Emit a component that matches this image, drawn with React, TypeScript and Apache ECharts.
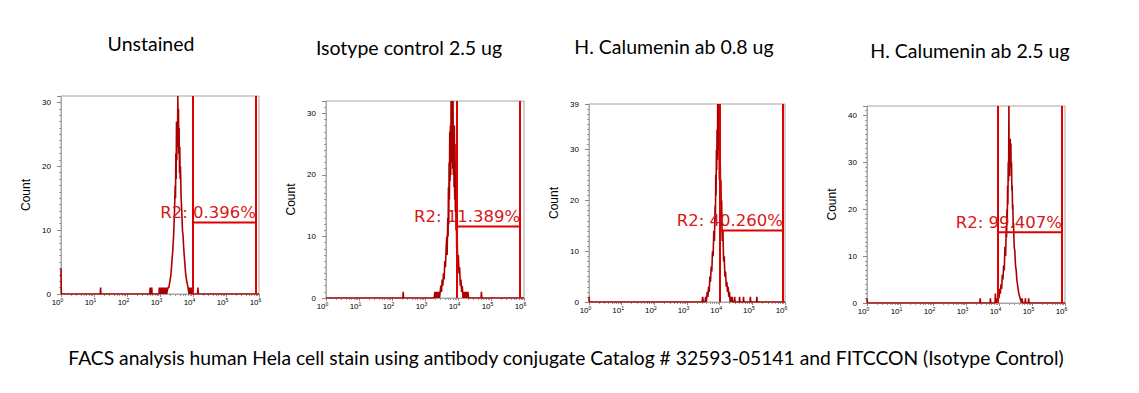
import React, { useEffect, useRef } from "react";
import * as echarts from "echarts";

// ---------- texts ----------
const panelTitles = [
  "Unstained",
  "Isotype control 2.5 ug",
  "H. Calumenin ab 0.8 ug",
  "H. Calumenin ab 2.5 ug",
];
const caption =
  "FACS analysis human Hela cell stain using antibody conjugate Catalog # 32593-05141 and FITCCON (Isotype Control)";
const yAxisName = "Count";

// ---------- axes ----------
const decadeTicks = [0, 1, 2, 3, 4, 5, 6]; // exponent of 10
const yMaxes = [31, 32, 39, 42];
const yShowMaxLabel = [false, false, true, false];

// ---------- gates (R2) ----------
const gateStart = [3.98, 3.96, 4.0, 3.97];
const gateEnd = [5.89, 5.87, 5.92, 5.89];
const gateHeight = [11.2, 11.6, 14.1, 15.1];
const gateLabels = ["R2: 0.396%", "R2: 11.389%", "R2: 40.260%", "R2: 99.407%"];

// ---------- histograms: [log10 fluorescence, count] ----------
const unstainedHist = [
  [0, 4], [0.01, 0], [1.19, 0], [1.2, 1], [1.21, 0], [2.69, 0], [2.7, 1], [2.71, 0],
  [2.74, 0], [2.75, 1], [2.76, 0], [2.97, 0], [2.98, 1], [3.0, 0], [3.02, 1], [3.04, 0],
  [3.06, 1], [3.08, 0], [3.1, 1], [3.12, 0], [3.14, 1], [3.16, 0], [3.18, 1], [3.2, 0],
  [3.24, 1], [3.27, 1], [3.3, 2], [3.33, 3], [3.36, 5], [3.39, 7], [3.42, 10], [3.44, 13],
  [3.46, 17], [3.47, 15], [3.48, 22], [3.49, 18], [3.5, 27], [3.51, 21], [3.52, 26],
  [3.53, 23], [3.54, 31], [3.55, 24], [3.56, 29], [3.57, 22], [3.58, 26], [3.59, 19],
  [3.6, 23], [3.61, 18], [3.62, 20], [3.64, 15], [3.66, 13], [3.68, 10], [3.7, 9],
  [3.72, 7], [3.75, 5], [3.78, 3], [3.81, 2], [3.85, 1], [3.88, 0], [3.9, 1], [3.92, 0],
  [3.95, 1], [3.96, 0], [4.14, 0], [4.15, 1], [4.16, 0], [6, 0],
];
const isotypeHist = [
  [0, 0], [2.33, 0], [2.34, 1], [2.35, 0], [3.28, 0], [3.3, 1], [3.32, 0], [3.34, 1],
  [3.36, 0], [3.38, 1], [3.4, 0], [3.42, 1], [3.44, 0], [3.46, 1], [3.48, 2], [3.5, 1],
  [3.52, 3], [3.54, 2], [3.56, 4], [3.58, 3], [3.6, 6], [3.62, 5], [3.64, 8], [3.66, 10],
  [3.67, 7], [3.69, 13], [3.7, 10], [3.71, 18], [3.72, 12], [3.73, 22], [3.74, 16],
  [3.75, 27], [3.76, 19], [3.77, 28], [3.78, 20], [3.79, 32], [3.8, 22], [3.81, 32],
  [3.82, 24], [3.83, 28], [3.84, 21], [3.85, 32], [3.86, 20], [3.87, 28], [3.88, 18],
  [3.89, 28], [3.9, 16], [3.91, 25], [3.92, 14], [3.93, 20], [3.94, 11], [3.95, 15],
  [3.96, 8], [3.97, 11], [3.99, 6], [4.01, 7], [4.03, 4], [4.05, 5], [4.07, 2], [4.09, 3],
  [4.11, 1], [4.13, 2], [4.15, 0], [4.17, 1], [4.19, 0], [4.21, 1], [4.23, 0], [4.26, 1],
  [4.28, 0], [4.3, 1], [4.32, 0], [4.7, 0], [4.71, 1], [4.72, 0], [6, 0],
];
const calumenin08Hist = [
  [0, 1], [0.01, 0], [3.46, 0], [3.48, 1], [3.5, 0], [3.55, 0], [3.57, 1], [3.59, 0],
  [3.62, 2], [3.64, 1], [3.66, 3], [3.68, 2], [3.7, 5], [3.72, 4], [3.74, 7], [3.76, 6],
  [3.78, 10], [3.8, 9], [3.82, 14], [3.84, 12], [3.86, 19], [3.87, 16], [3.88, 25],
  [3.89, 21], [3.9, 30], [3.91, 26], [3.92, 34], [3.93, 28], [3.94, 39], [3.95, 31],
  [3.96, 39], [3.97, 30], [3.98, 36], [3.99, 24], [4.0, 33], [4.01, 22], [4.02, 27],
  [4.03, 19], [4.04, 24], [4.05, 15], [4.06, 20], [4.08, 12], [4.1, 14], [4.12, 8],
  [4.14, 9], [4.16, 5], [4.18, 6], [4.2, 3], [4.22, 4], [4.24, 2], [4.26, 3], [4.28, 1],
  [4.3, 2], [4.32, 0], [4.34, 1], [4.36, 0], [4.38, 1], [4.4, 0], [4.45, 0], [4.46, 1],
  [4.47, 0], [4.6, 0], [4.61, 1], [4.62, 0], [4.72, 0], [4.73, 1], [4.74, 0], [4.93, 0],
  [4.94, 1], [4.95, 0], [5.13, 0], [5.14, 1], [5.15, 0], [6, 0],
];
const calumenin25Hist = [
  [0, 1], [0.01, 0], [3.42, 0], [3.43, 1], [3.44, 0], [3.73, 0], [3.74, 1], [3.75, 0],
  [3.88, 0], [3.89, 2], [3.9, 0], [3.92, 1], [3.94, 0], [3.96, 1], [3.98, 2], [4.0, 1],
  [4.02, 3], [4.04, 2], [4.06, 4], [4.08, 3], [4.1, 6], [4.12, 5], [4.14, 8], [4.16, 7],
  [4.18, 12], [4.2, 10], [4.22, 16], [4.23, 14], [4.24, 20], [4.25, 17], [4.26, 25],
  [4.27, 21], [4.28, 30], [4.29, 26], [4.3, 42], [4.31, 27], [4.32, 31], [4.33, 29],
  [4.34, 35], [4.35, 30], [4.36, 34], [4.37, 27], [4.38, 30], [4.39, 24], [4.4, 25],
  [4.41, 20], [4.42, 21], [4.43, 16], [4.44, 17], [4.46, 12], [4.48, 11], [4.5, 8],
  [4.52, 7], [4.54, 5], [4.56, 4], [4.58, 3], [4.6, 2], [4.62, 2], [4.64, 1], [4.66, 1],
  [4.68, 0], [4.7, 1], [4.72, 0], [4.79, 0], [4.8, 1], [4.81, 0], [4.89, 0], [4.9, 1],
  [4.91, 0], [6, 0],
];
const histograms = [unstainedHist, isotypeHist, calumenin08Hist, calumenin25Hist];

// ---------- layout (pixels) ----------
const grids = [
  { left: 61, top: 96, width: 198, height: 198 },
  { left: 326, top: 101, width: 198, height: 197 },
  { left: 589, top: 104, width: 196, height: 198 },
  { left: 867, top: 106, width: 198, height: 197 },
];
const titlePos = [
  [151, 43],
  [409, 47],
  [674, 46],
  [970, 50],
];
const captionPos = [566, 357];

const HIST_COLOR = "#aa0000";
const GATE_COLOR = "#e00000";
const LABEL_COLOR = "#d81818";
const AXIS_COLOR = "#a6a6a6";
const SMALL_FONT = "Liberation Sans, Arial, sans-serif";
const TITLE_FONT = "19.5px Lato, 'Open Sans', sans-serif";
const CAPTION_FONT = "19.3px Lato, 'Open Sans', sans-serif";

const minorTickValues: number[] = [];
for (let d = 0; d < 6; d++) {
  for (let k = 2; k <= 9; k++) minorTickValues.push(d + Math.log10(k));
}

function buildOption() {
  const xAxis: any[] = [];
  const yAxis: any[] = [];
  const series: any[] = [];
  grids.forEach((g, i) => {
    xAxis.push({
      type: "value",
      gridIndex: i,
      min: 0,
      max: 6,
      interval: 1,
      position: "bottom",
      axisLine: { show: true, onZero: false, lineStyle: { color: AXIS_COLOR, width: 1 } },
      axisTick: { show: true, length: 3, lineStyle: { color: "#888" } },
      splitLine: { show: false },
      axisLabel: {
        margin: 3,
        color: "#000",
        formatter: (v: number) =>
          decadeTicks.indexOf(v) >= 0 ? `{b|10}{s|${v}}` : "",
        rich: {
          b: { fontSize: 8, fontFamily: SMALL_FONT, color: "#000", verticalAlign: "bottom" },
          s: {
            fontSize: 5,
            fontFamily: SMALL_FONT,
            color: "#000",
            verticalAlign: "bottom",
            padding: [0, 7, 4, 0],
          },
        },
      },
    });
    xAxis.push({
      type: "value",
      gridIndex: i,
      min: 0,
      max: 6,
      position: "bottom",
      axisLine: { show: false },
      axisLabel: { show: false },
      splitLine: { show: false },
      axisTick: {
        show: true,
        length: 2,
        customValues: minorTickValues,
        lineStyle: { color: "#999" },
      },
    });
    yAxis.push({
      type: "value",
      gridIndex: i,
      min: 0,
      max: yMaxes[i],
      interval: 10,
      name: yAxisName,
      nameLocation: "middle",
      nameRotate: 90,
      nameGap: 29,
      nameTextStyle: { fontSize: 12, fontFamily: SMALL_FONT, color: "#000" },
      axisLine: { show: true, lineStyle: { color: AXIS_COLOR, width: 1 } },
      axisTick: { show: true, length: 4, lineStyle: { color: "#888" } },
      minorTick: { show: true, splitNumber: 10, length: 2, lineStyle: { color: "#999" } },
      splitLine: { show: false },
      minorSplitLine: { show: false },
      axisLabel: {
        margin: 10,
        fontSize: 8,
        fontFamily: SMALL_FONT,
        color: "#000",
        showMaxLabel: yShowMaxLabel[i],
      },
    });
    series.push({
      type: "line",
      xAxisIndex: i * 2,
      yAxisIndex: i,
      data: histograms[i],
      symbol: "none",
      clip: true,
      silent: true,
      lineStyle: { color: HIST_COLOR, width: 1.6 },
      z: 2,
    });
    series.push({
      type: "line",
      xAxisIndex: i * 2,
      yAxisIndex: i,
      data: [
        [gateStart[i], gateHeight[i]],
        [gateEnd[i], gateHeight[i]],
      ],
      symbol: "none",
      silent: true,
      lineStyle: { color: GATE_COLOR, width: 2 },
      z: 3,
      markLine: {
        silent: true,
        symbol: ["none", "none"],
        label: { show: false },
        lineStyle: { color: GATE_COLOR, width: 2, type: "solid" },
        emphasis: { disabled: true },
        data: [
          [{ coord: [gateStart[i], 0] }, { coord: [gateStart[i], yMaxes[i]] }],
          [{ coord: [gateEnd[i], 0] }, { coord: [gateEnd[i], yMaxes[i]] }],
        ],
      },
      markPoint: {
        silent: true,
        symbol: "circle",
        symbolSize: 1,
        itemStyle: { color: "rgba(0,0,0,0)" },
        label: {
          show: true,
          position: "left",
          distance: 0,
          offset: [1, -10],
          formatter: gateLabels[i],
          color: LABEL_COLOR,
          fontSize: 16.5,
          fontFamily: "DejaVu Sans, Verdana, sans-serif",
        },
        data: [{ coord: [gateEnd[i], gateHeight[i]] }],
      },
    });
  });

  const graphics: any[] = panelTitles.map((t, i) => ({
    type: "text",
    x: titlePos[i][0],
    y: titlePos[i][1],
    style: {
      text: t,
      fill: "#000",
      font: TITLE_FONT,
      textAlign: "center",
      textVerticalAlign: "middle",
    },
  }));
  graphics.push({
    type: "text",
    x: captionPos[0],
    y: captionPos[1],
    style: {
      text: caption,
      fill: "#000",
      font: CAPTION_FONT,
      textAlign: "center",
      textVerticalAlign: "middle",
    },
  });

  return {
    animation: false,
    backgroundColor: "#ffffff",
    grid: grids.map((g) => ({
      ...g,
      show: true,
      borderColor: AXIS_COLOR,
      borderWidth: 1,
      backgroundColor: "transparent",
      containLabel: false,
      outerBoundsMode: "none",
    })),
    xAxis,
    yAxis,
    series,
    graphic: graphics,
  };
}

export default function App() {
  const ref = useRef<HTMLDivElement>(null);
  useEffect(() => {
    if (!ref.current) return;
    const chart = echarts.init(ref.current, null, { renderer: "svg" });
    chart.setOption(buildOption() as any);
    return () => chart.dispose();
  }, []);
  return (
    <div
      ref={ref}
      style={{ position: "fixed", left: 0, top: 0, width: 1139, height: 393, background: "#fff" }}
    />
  );
}
